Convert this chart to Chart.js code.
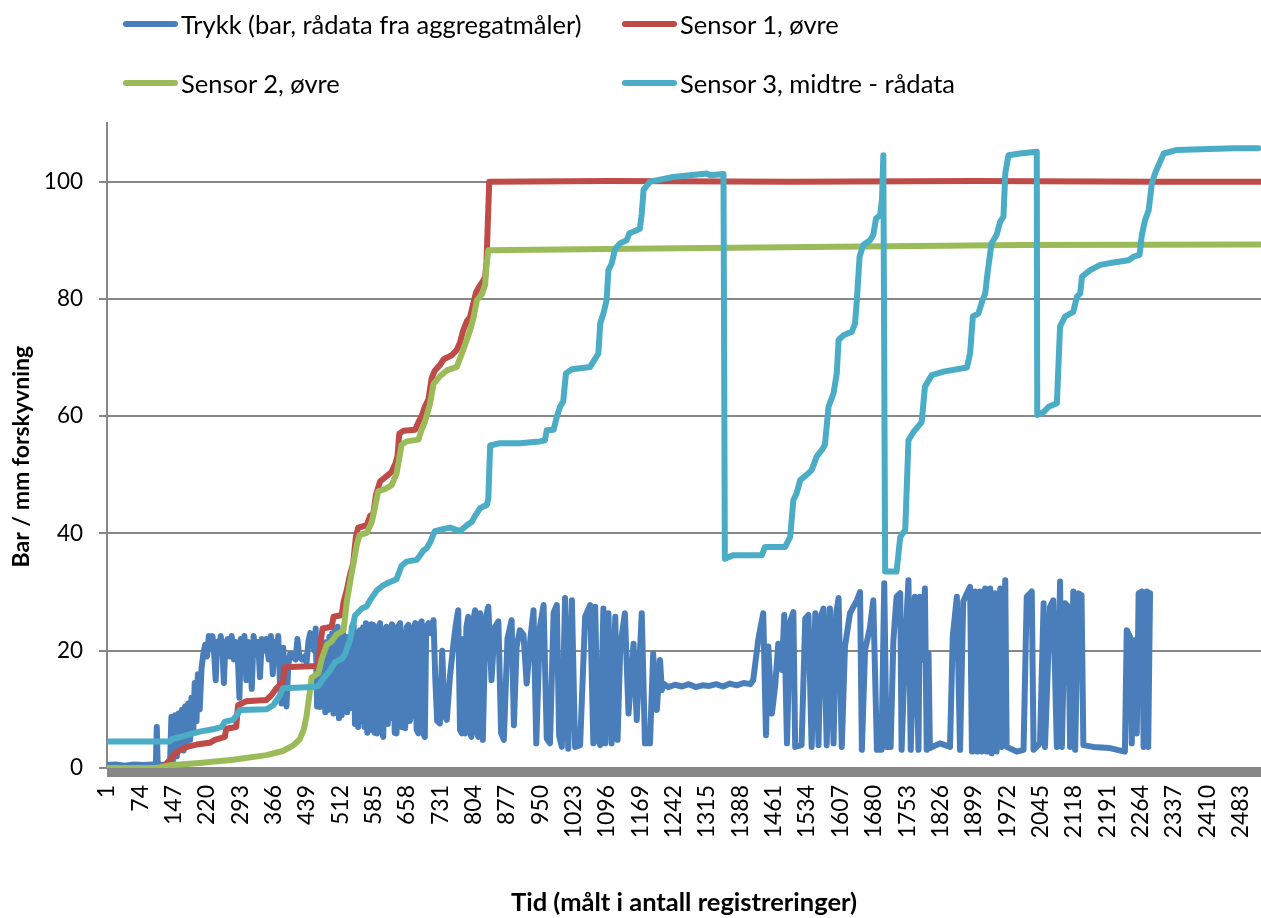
<!DOCTYPE html>
<html>
<head>
<meta charset="utf-8">
<script src="https://cdn.jsdelivr.net/npm/chart.js@4.4.1/dist/chart.umd.min.js"></script>
<style>
  html, body { margin: 0; padding: 0; background: #fff; }
  #wrap { position: relative; width: 1261px; height: 918px; overflow: hidden; }
  #c { position: absolute; left: 0; top: 0; }
  .leg { position: absolute; height: 30px; display: flex; align-items: center;
         font-family: Lato, "Open Sans", sans-serif; font-size: 25.5px; color: #000; white-space: nowrap; }
  .leg .sw { display: inline-block; width: 55px; height: 6px; border-radius: 3px; margin-right: 3px; }
</style>
</head>
<body>
<div id="wrap">
  <canvas id="c" width="1261" height="918"></canvas>
  <div id="legend"></div>
</div>
<script>
// ---- Series names and colours ----
const seriesNames = [
  'Trykk (bar, rådata fra aggregatmåler)',
  'Sensor 1, øvre',
  'Sensor 2, øvre',
  'Sensor 3, midtre - rådata'
];
const seriesColors = ['#4a7ebb', '#be4b48', '#9bbb59', '#4bacc6'];

// ---- Category axis (registration number) ----
const antallRegistreringer = 2528;
const tidEtiketter = [1, 74, 147, 220, 293, 366, 439, 512, 585, 658, 731, 804, 877, 950, 1023,
  1096, 1169, 1242, 1315, 1388, 1461, 1534, 1607, 1680, 1753, 1826, 1899, 1972, 2045, 2118,
  2191, 2264, 2337, 2410, 2483];
const verdiEtiketter = [0, 20, 40, 60, 80, 100];

// ---- Trykk (bar): registration number / value at each vertex ----
const trykkTid = [
  1, 20, 40, 60, 80, 100, 108, 110, 112, 125, 139,
  142, 146, 150, 154, 158, 161, 165, 169, 172, 175, 179, 183, 186, 190, 193, 197, 200, 204, 208,
  212, 216, 220, 224, 228,
  232, 236, 239, 242, 246, 250, 254, 257, 260, 265, 270, 274, 279, 283, 287, 291, 294, 298, 302,
  306, 310, 314, 318, 322, 327, 332, 336, 340, 345, 350, 355, 360, 364, 368, 372, 376, 380, 383,
  387, 391, 394, 398, 402, 408, 414, 418, 422, 428, 433, 438, 442, 446, 450,
  455, 458, 461, 464, 467, 470, 473, 476, 479, 482, 485, 488, 491, 494, 497, 500, 503, 506, 509,
  512, 515, 518, 521, 524, 527, 530, 533, 537, 541, 544, 548, 551, 555, 558, 562, 565, 568, 571,
  574, 577, 580, 584, 587, 590, 592, 595, 599, 602, 606, 609, 613, 616, 619, 621, 625, 628, 631,
  635, 638, 643, 646, 650, 654, 657, 661, 664, 668, 671, 676, 679, 683, 686, 690, 693, 697, 700,
  705, 710, 716, 720, 724, 730, 735, 740, 745, 752, 759, 764, 770, 774, 778, 781, 785, 788, 792,
  796, 799, 803, 807, 811, 814, 818,
  824, 830, 836, 843, 850, 858, 864, 870, 878, 887, 892, 898, 905, 913, 920, 928, 935, 941, 949,
  957, 964, 971, 979, 986, 991, 997, 1004, 1011, 1019, 1026, 1037, 1048, 1059, 1066, 1070, 1076,
  1081, 1088, 1092, 1099, 1106, 1114, 1119, 1125, 1135, 1143, 1154, 1161, 1172, 1179, 1190, 1197,
  1205, 1212, 1216, 1219,
  1230, 1245, 1260, 1275, 1290, 1305, 1320, 1335, 1350, 1365, 1380, 1395, 1410, 1416,
  1427, 1438, 1444, 1449, 1457, 1464, 1471, 1479, 1484, 1490, 1497, 1504, 1508, 1522, 1530, 1537,
  1544, 1552, 1559, 1565, 1570, 1577, 1584, 1592, 1598, 1603, 1610, 1617, 1628, 1643, 1650, 1654,
  1661, 1672, 1679, 1687, 1697, 1703, 1708, 1717, 1723, 1730, 1738, 1741, 1749, 1756, 1761, 1770,
  1778, 1781, 1787, 1792, 1796, 1800, 1803, 1825, 1847, 1853, 1862, 1869, 1876, 1884, 1891, 1895,
  1902, 1906, 1913, 1916, 1924, 1927, 1935, 1938, 1946, 1949, 1957, 1960, 1968, 1971, 1993, 2008,
  2015, 2026, 2030, 2044, 2052, 2055, 2066, 2073, 2081, 2088, 2092, 2099, 2106, 2110, 2117, 2121,
  2128, 2135, 2139, 2161, 2197, 2230, 2234, 2241, 2245, 2249, 2252, 2256, 2260, 2267, 2271, 2278,
  2281, 2285
];
const trykkVerdi = [
  0.5, 0.6, 0.4, 0.6, 0.5, 0.6, 0.5, 7.0, 0.6, 0.5, 0.6,
  8.7, 1.4, 9.0, 2.0, 9.3, 3.1, 9.9, 3.0, 10.5, 3.6, 11.0, 4.8, 12.0, 6.0, 14.5, 8.0, 16.0, 10.0, 17.0,
  19.5, 21.0, 19.0, 22.5, 21.0,
  22.5, 19.0, 15.0, 21.5, 20.0, 22.5, 19.5, 14.5, 21.0, 22.0, 19.0, 22.5, 18.5, 21.5, 20.0, 12.0, 22.0, 19.5, 22.5,
  15.0, 21.5, 20.5, 13.5, 22.5, 19.5, 21.5, 15.5, 22.0, 20.0, 22.0, 18.5, 22.5, 16.0, 21.5, 19.0, 22.5, 14.0, 11.0,
  20.5, 12.5, 10.5, 17.5, 19.5, 19.0, 18.5, 22.0, 19.0, 18.5, 19.0, 18.0, 21.5, 23.0, 22.0,
  20.0, 23.8, 10.5, 21.0, 10.4, 22.0, 11.0, 19.5, 9.5, 21.5, 9.9, 22.4, 10.0, 23.0, 9.3, 23.5, 10.5, 24.1, 8.5,
  22.0, 9.0, 23.0, 12.0, 22.4, 9.5, 21.0, 10.2, 24.0, 24.7, 7.5, 23.0, 7.0, 23.5, 8.0, 24.0, 7.0, 24.7, 6.0,
  23.8, 6.5, 24.5, 24.4, 6.0, 22.5, 5.9, 24.0, 24.7, 6.5, 5.3, 23.5, 24.1, 7.5, 23.0, 8.5, 24.5, 24.1, 6.0,
  5.9, 24.0, 24.7, 7.0, 23.0, 6.8, 24.0, 24.4, 8.0, 9.3, 23.5, 24.7, 6.5, 5.9, 24.5, 25.0, 6.0, 5.3, 24.0,
  24.7, 23.0, 25.2, 15.0, 8.0, 7.6, 20.0, 9.0, 8.2, 15.6, 20.7, 24.0, 26.9, 6.5, 5.9, 22.0, 5.9, 24.0, 25.8,
  6.0, 5.3, 25.0, 26.9, 6.0, 5.3, 26.4,
  4.8, 25.5, 27.5, 15.0, 24.0, 25.0, 6.0, 4.8, 22.1, 25.2, 7.3, 20.7, 23.5, 22.7, 14.4, 22.0, 26.9, 4.2, 24.0,
  27.8, 5.0, 4.2, 26.5, 27.8, 5.5, 3.6, 29.0, 3.3, 28.6, 3.6, 3.9, 25.8, 27.8, 4.2, 27.5, 5.0,
  3.9, 27.2, 4.2, 26.4, 4.2, 25.8, 4.8, 20.7, 26.4, 9.3, 21.2, 8.2, 26.4, 4.2, 4.2, 19.5,
  9.9, 18.4, 13.3, 14.4,
  13.8, 14.2, 13.9, 14.3, 13.8, 14.1, 14.0, 14.3, 13.9, 14.4, 14.1, 14.5, 14.3, 15.0,
  21.8, 26.4, 5.6, 20.7, 9.3, 13.9, 21.2, 16.7, 26.1, 4.2, 25.0, 26.6, 3.6, 3.9, 25.5, 26.1,
  3.6, 26.4, 3.9, 26.0, 27.2, 3.9, 27.2, 4.2, 26.5, 29.0, 3.6, 20.7, 26.4, 28.6, 30.0, 3.1,
  20.1, 24.1, 28.6, 3.1, 3.1, 31.5, 3.6, 3.6, 21.8, 29.2, 29.8, 3.1, 21.3, 32.0, 3.1, 29.2,
  3.1, 29.2, 18.4, 30.6, 3.1, 19.5, 3.4, 4.2, 3.6, 22.4, 29.2, 3.1, 28.4, 29.8, 30.9, 2.8,
  30.1, 2.8, 30.1, 2.8, 30.6, 2.8, 30.6, 2.5, 29.8, 2.8, 30.6, 3.6, 32.0, 3.6, 2.8, 3.1,
  29.2, 30.1, 3.1, 4.2, 28.1, 3.6, 27.5, 28.6, 3.6, 31.8, 3.6, 28.1, 27.5, 3.6, 30.1, 3.1,
  29.8, 29.5, 3.9, 3.6, 3.4, 2.8, 23.5, 22.4, 4.2, 21.8, 21.8, 5.9, 29.8, 30.1, 3.6, 30.1,
  3.6, 29.8
];

// ---- Sensor 1, øvre (mm) ----
const sensor1Tid = [1, 113, 125, 143, 150, 165, 176, 197, 226, 237, 259, 262, 284, 288, 306, 350, 361,
  372, 386, 390, 459, 464, 468, 473, 493, 497, 515, 519, 526, 533, 540, 546, 551, 570, 577, 584,
  590, 599, 614, 624, 632, 637, 641, 650, 676, 683, 690, 697, 705, 712, 719, 730, 738, 756, 767,
  774, 781, 789, 796, 803, 809, 816, 824, 829, 832, 836, 838, 1100, 1500, 1900, 2300, 2527];
const sensor1Verdi = [0, 0, 0.3, 1.7, 2.5, 3.2, 3.6, 4.0, 4.3, 4.8, 5.3, 6.7, 7.0, 10.7, 11.4, 11.6, 12.4,
  13.6, 14.7, 17.2, 17.4, 17.6, 21.0, 23.8, 24.1, 25.8, 26.1, 28.3, 30.3, 32.9, 34.9, 39.4, 41.0, 41.4, 43.0, 43.3,
  46.6, 48.9, 49.8, 50.5, 51.8, 53.1, 57.0, 57.5, 57.7, 59.0, 60.0, 61.6, 62.9, 66.5, 67.8, 68.7, 69.7, 70.4, 71.3,
  72.6, 74.6, 76.2, 76.9, 79.2, 81.1, 82.1, 83.0, 83.7, 86.3, 95.4, 100.0, 100.1, 100.0, 100.1, 100.0, 100.0];

// ---- Sensor 2, øvre (mm) ----
const sensor2Tid = [1, 109, 138, 204, 277, 350, 386, 408, 423, 432, 438, 444, 449, 464, 471, 482, 493,
  504, 519, 526, 533, 548, 554, 570, 581, 588, 595, 610, 624, 635, 646, 657, 683, 690, 697, 708,
  716, 730, 745, 767, 781, 796, 803, 811, 822, 829, 832, 836, 1200, 1600, 2000, 2527];
const sensor2Verdi = [0, 0, 0.45, 0.85, 1.4, 2.2, 2.9, 3.8, 4.9, 6.6, 8.9, 12.3, 15.4, 16.2, 18.5, 21.0, 21.6,
  22.8, 23.5, 28.3, 31.6, 38.1, 39.7, 40.1, 42.0, 44.6, 47.2, 47.6, 48.2, 50.2, 55.1, 55.7, 56.0, 57.7, 59.0, 62.0,
  65.5, 66.8, 67.8, 68.4, 71.3, 74.6, 76.6, 79.8, 80.8, 82.4, 85.7, 88.3, 88.6, 88.9, 89.2, 89.3];

// ---- Sensor 3, midtre - rådata (mm) ----
const sensor3Tid = [1, 138, 143, 176, 204, 233, 252, 259, 277, 288, 292, 350, 365, 380, 386, 452, 464,
  475, 489, 500, 515, 522, 533, 544, 559, 570, 577, 592, 603, 617, 635, 646, 657, 679, 686, 694,
  701, 708, 719, 734, 752, 774, 789, 800, 807, 818, 833, 836, 840, 862, 905, 935, 949, 960, 964,
  979, 986, 993, 1000, 1006, 1019, 1059, 1066, 1077, 1081, 1088, 1095, 1099, 1106, 1114, 1125,
  1139, 1145, 1161, 1168, 1172, 1176, 1190, 1241, 1314, 1322, 1351, 1354, 1373, 1435, 1442, 1486,
  1497, 1504, 1511, 1519, 1533, 1544, 1555, 1566, 1573, 1581, 1592, 1599, 1603, 1614, 1632, 1639,
  1643, 1649, 1657, 1672, 1679, 1685, 1694, 1698, 1701, 1705, 1730, 1738, 1749, 1756, 1767, 1785,
  1792, 1807, 1833, 1884, 1891, 1897, 1909, 1917, 1924, 1929, 1938, 1949, 1957, 1964, 1968, 1975,
  2000, 2037, 2038, 2052, 2063, 2081, 2088, 2099, 2117, 2125, 2132, 2136, 2154, 2176, 2205, 2238,
  2249, 2262, 2267, 2274, 2282, 2289, 2296, 2307, 2315, 2344, 2468, 2522];
const sensor3Verdi = [4.5, 4.5, 4.9, 5.6, 6.2, 6.6, 7.0, 7.9, 8.2, 9.3, 9.9, 10.0, 10.7, 12.4, 13.6, 13.8, 14.0,
  15.3, 16.6, 18.0, 18.6, 19.4, 21.8, 26.0, 27.2, 27.6, 28.6, 30.3, 31.0, 31.6, 32.2, 34.5, 35.2, 35.5, 36.2, 37.1,
  37.5, 38.4, 40.4, 40.7, 41.0, 40.4, 41.4, 42.0, 43.0, 44.3, 44.9, 46.0, 55.0, 55.4, 55.4, 55.6, 55.7, 55.9, 57.6,
  57.7, 59.9, 61.6, 62.5, 67.3, 68.0, 68.4, 69.3, 70.7, 75.8, 77.5, 79.8, 84.9, 86.0, 88.6, 89.5,
  90.0, 91.2, 91.7, 92.0, 94.6, 98.6, 100.0, 100.8, 101.4, 101.1, 101.3, 35.7, 36.3, 36.3, 37.7, 37.7,
  39.4, 45.7, 46.8, 49.1, 50.0, 50.8, 53.1, 54.2, 55.1, 61.6, 63.9, 67.3, 73.0, 73.8, 74.4, 75.8,
  79.8, 87.2, 89.2, 90.0, 90.9, 93.7, 94.3, 96.9, 104.5, 33.5, 33.5, 39.4, 40.6, 55.9, 57.3, 59.0,
  65.0, 67.0, 67.6, 68.3, 70.7, 77.0, 77.5, 79.5, 80.9, 84.3, 89.5, 90.9, 93.2, 94.0, 101.4, 104.5,
  104.8, 105.1, 60.2, 60.7, 61.6, 62.2, 75.3, 77.0, 77.8, 80.4, 80.9, 83.8, 84.9, 85.8, 86.2, 86.6,
  87.2, 87.5, 90.9, 93.4, 95.1, 99.7, 101.4, 103.4, 104.8, 105.4, 105.7, 105.7];

// ---- Build datasets ----
function points(tid, verdi) { return tid.map((t, i) => ({ x: t, y: verdi[i] })); }
const seriesData = [
  points(trykkTid, trykkVerdi),
  points(sensor1Tid, sensor1Verdi),
  points(sensor2Tid, sensor2Verdi),
  points(sensor3Tid, sensor3Verdi)
];
const lineWidths = [6, 6, 6, 6];

const datasets = seriesNames.map((name, i) => ({
  label: name,
  data: seriesData[i],
  borderColor: seriesColors[i],
  backgroundColor: seriesColors[i],
  borderWidth: lineWidths[i],
  pointRadius: 0,
  tension: 0,
  fill: false,
  borderJoinStyle: 'round',
  borderCapStyle: 'round',
  order: seriesNames.length - i   // later series are painted on top
}));

// ---- Legend (two rows, two columns) ----
const legendPos = [[123, 24], [622, 24], [123, 83], [622, 83]];
const legendEl = document.getElementById('legend');
seriesNames.forEach((name, i) => {
  const d = document.createElement('div');
  d.className = 'leg';
  d.style.left = legendPos[i][0] + 'px';
  d.style.top = (legendPos[i][1] - 15) + 'px';
  const sw = document.createElement('span');
  sw.className = 'sw';
  sw.style.background = seriesColors[i];
  d.appendChild(sw);
  d.appendChild(document.createTextNode(name));
  legendEl.appendChild(d);
});

// ---- Chart ----
const FONT = 'Lato, "Open Sans", sans-serif';
const AXIS_GREY = '#878787';
const etikettSett = new Set(tidEtiketter);
const alleRegistreringer = Array.from({ length: antallRegistreringer }, (_, i) => i + 1);

new Chart(document.getElementById('c'), {
  type: 'line',
  data: { datasets },
  options: {
    responsive: false,
    animation: false,
    devicePixelRatio: 1,
    parsing: false,
    normalized: true,
    layout: { padding: { top: 123, right: 0, bottom: 0, left: 0 } },
    plugins: { legend: { display: false }, tooltip: { enabled: false } },
    scales: {
      x: {
        type: 'linear',
        min: 1,
        max: antallRegistreringer,
        afterBuildTicks: s => { s.ticks = alleRegistreringer.map(v => ({ value: v })); },
        afterFit: s => { s.height = 150; s.paddingLeft = 0; s.paddingRight = 0; },
        ticks: {
          autoSkip: false,
          minRotation: 90,
          maxRotation: 90,
          padding: 8,
          color: '#000',
          font: { family: FONT, size: 23 },
          callback: v => (etikettSett.has(v) ? String(v) : '')
        },
        grid: { drawOnChartArea: false, drawTicks: true, tickLength: 9, color: AXIS_GREY, lineWidth: 1 },
        border: { display: true, color: AXIS_GREY, width: 2 },
        title: {
          display: true,
          text: 'Tid (målt i antall registreringer)',
          color: '#000',
          font: { family: FONT, size: 25.5, weight: 'bold' },
          padding: { top: 0, bottom: 0 }
        }
      },
      y: {
        min: 0,
        max: 110,
        afterBuildTicks: s => { s.ticks = verdiEtiketter.map(v => ({ value: v })); },
        afterFit: s => { s.width = 107; },
        ticks: { padding: 16, color: '#000', font: { family: FONT, size: 22.5 } },
        grid: { color: AXIS_GREY, lineWidth: 2, tickLength: 8 },
        border: { display: true, color: AXIS_GREY, width: 2 },
        title: {
          display: true,
          text: 'Bar / mm forskyvning\u00a0\u00a0\u00a0\u00a0',
          color: '#000',
          font: { family: FONT, size: 23, weight: 'bold' },
          padding: { top: 8, bottom: 0 }
        }
      }
    }
  }
});
</script>
</body>
</html>
